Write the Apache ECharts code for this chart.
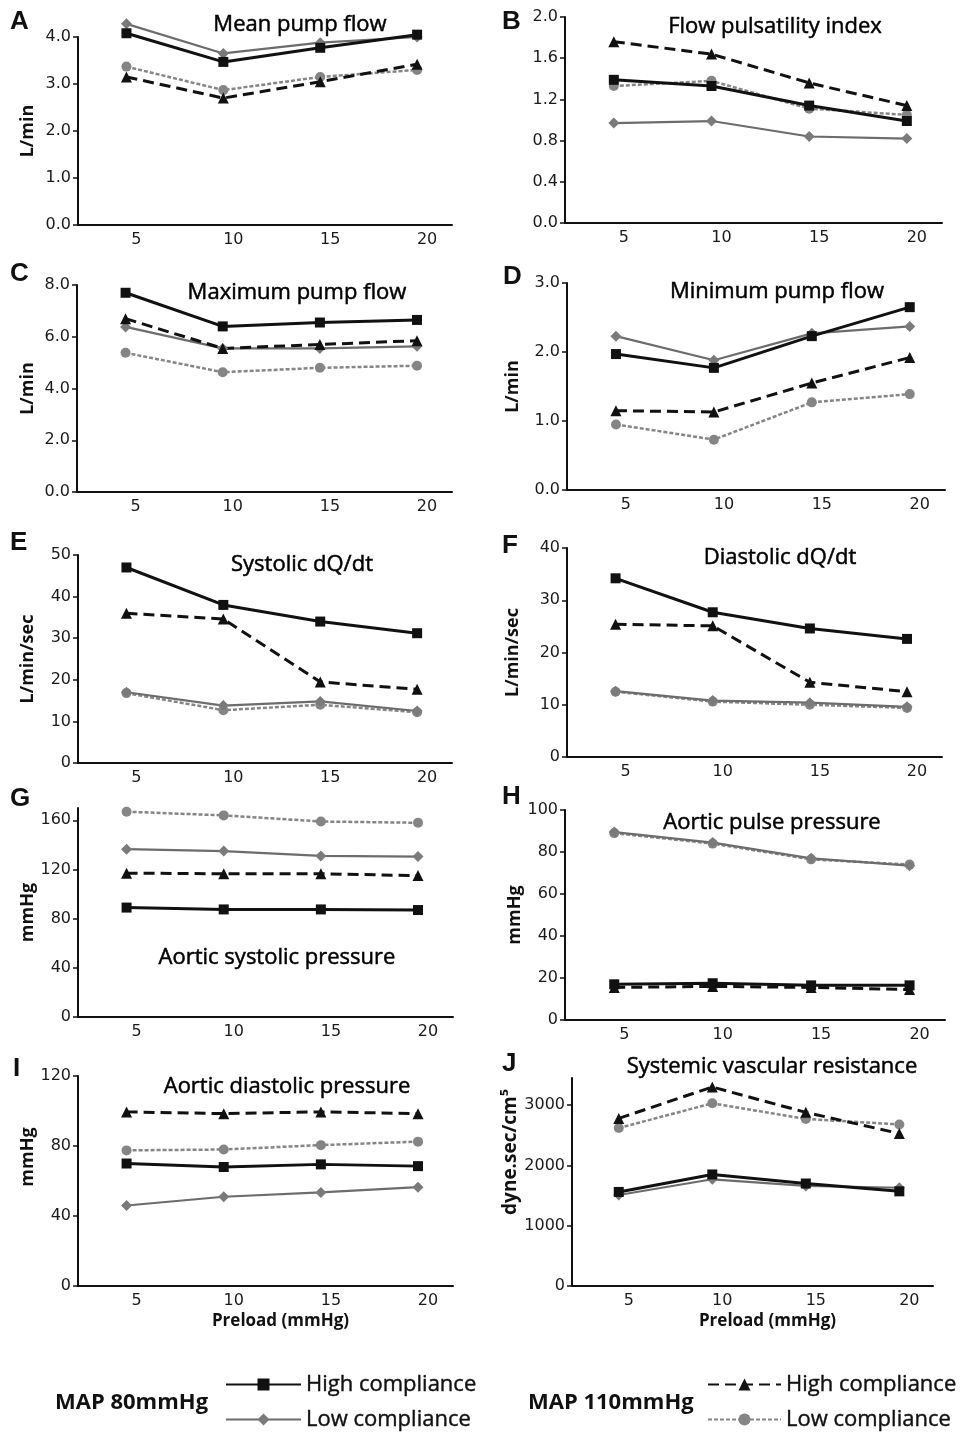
<!DOCTYPE html>
<html><head><meta charset="utf-8">
<script src="https://cdn.jsdelivr.net/npm/echarts@6/dist/echarts.min.js"></script>
<style>html,body{margin:0;padding:0;background:#fff}#c{width:971px;height:1435px}</style>
</head><body><div id="c"></div>
<script>
// ---------- DATA ----------
const preload = [5, 10, 15, 20];

// A Mean pump flow (L/min)
const meanFlowHigh80  = [4.08, 3.47, 3.77, 4.05];
const meanFlowLow80   = [4.28, 3.65, 3.88, 4.00];
const meanFlowHigh110 = [3.15, 2.70, 3.05, 3.42];
const meanFlowLow110  = [3.37, 2.87, 3.15, 3.30];
const ticksA = [0, 1, 2, 3, 4];

// B Flow pulsatility index
const pulsHigh80  = [1.39, 1.33, 1.14, 0.99];
const pulsLow80   = [0.97, 0.99, 0.84, 0.82];
const pulsHigh110 = [1.76, 1.64, 1.36, 1.14];
const pulsLow110  = [1.33, 1.38, 1.11, 1.05];
const ticksB = [0, 0.4, 0.8, 1.2, 1.6, 2.0];

// C Maximum pump flow (L/min)
const maxFlowHigh80  = [7.70, 6.40, 6.55, 6.65];
const maxFlowLow80   = [6.38, 5.55, 5.55, 5.63];
const maxFlowHigh110 = [6.70, 5.55, 5.70, 5.85];
const maxFlowLow110  = [5.38, 4.63, 4.80, 4.88];
const ticksC = [0, 2, 4, 6, 8];

// D Minimum pump flow (L/min)
const minFlowHigh80  = [1.97, 1.77, 2.23, 2.65];
const minFlowLow80   = [2.23, 1.88, 2.27, 2.37];
const minFlowHigh110 = [1.15, 1.13, 1.55, 1.92];
const minFlowLow110  = [0.95, 0.73, 1.27, 1.39];
const ticksD = [0, 1, 2, 3];

// E Systolic dQ/dt (L/min/sec)
const sysDqHigh80  = [47.0, 38.0, 34.0, 31.2];
const sysDqLow80   = [17.0, 13.8, 14.8, 12.5];
const sysDqHigh110 = [36.0, 34.6, 19.5, 17.7];
const sysDqLow110  = [16.8, 12.7, 14.0, 12.2];
const ticksE = [0, 10, 20, 30, 40, 50];

// F Diastolic dQ/dt (L/min/sec)
const diaDqHigh80  = [34.2, 27.7, 24.6, 22.6];
const diaDqLow80   = [12.6, 10.8, 10.4, 9.6];
const diaDqHigh110 = [25.4, 25.1, 14.3, 12.5];
const diaDqLow110  = [12.5, 10.6, 10.0, 9.4];
const ticksF = [0, 10, 20, 30, 40];

// G Aortic systolic pressure (mmHg)
const aoSysHigh80  = [89.0, 87.5, 87.5, 87.0];
const aoSysLow80   = [136.5, 135.0, 131.0, 130.5];
const aoSysHigh110 = [117.0, 116.5, 116.5, 115.0];
const aoSysLow110  = [167.0, 164.0, 159.0, 158.0];
const ticksG = [0, 40, 80, 120, 160];

// H Aortic pulse pressure (mmHg)
const aoPulseHigh80  = [17.0, 17.5, 16.5, 16.5];
const aoPulseLow80   = [89.5, 84.5, 77.0, 73.5];
const aoPulseHigh110 = [15.5, 16.0, 15.5, 14.5];
const aoPulseLow110  = [89.0, 84.0, 76.5, 74.0];
const ticksH = [0, 20, 40, 60, 80, 100];

// I Aortic diastolic pressure (mmHg)
const aoDiaHigh80  = [70.0, 68.0, 69.5, 68.5];
const aoDiaLow80   = [46.0, 51.0, 53.5, 56.5];
const aoDiaHigh110 = [99.5, 98.5, 99.5, 98.5];
const aoDiaLow110  = [77.5, 78.0, 80.5, 82.5];
const ticksI = [0, 40, 80, 120];

// J Systemic vascular resistance (dyne.sec/cm5)
const svrHigh80  = [1560, 1850, 1700, 1570];
const svrLow80   = [1510, 1770, 1660, 1630];
const svrHigh110 = [2780, 3300, 2880, 2530];
const svrLow110  = [2620, 3030, 2770, 2680];
const ticksJ = [0, 1000, 2000, 3000];

// ---------- LAYOUT ----------
const panels = [
  {letter:'A', lx:10, ly:22, title:'Mean pump flow', tx:300, ty:25, grid:[78,37,374,188], ymax:4, ticks:ticksA, dec:1, yname:'L/min', gap:41, d:[meanFlowHigh80, meanFlowLow80, meanFlowHigh110, meanFlowLow110]},
  {letter:'B', lx:502, ly:22, title:'Flow pulsatility index', tx:775, ty:27, grid:[565,17,377,206], ymax:2, ticks:ticksB, dec:1, yname:'', gap:41, d:[pulsHigh80, pulsLow80, pulsHigh110, pulsLow110]},
  {letter:'C', lx:10, ly:274, title:'Maximum pump flow', tx:297, ty:293, grid:[77,285,375,207], ymax:8, ticks:ticksC, dec:1, yname:'L/min', gap:40, d:[maxFlowHigh80, maxFlowLow80, maxFlowHigh110, maxFlowLow110]},
  {letter:'D', lx:503, ly:277, title:'Minimum pump flow', tx:777, ty:292, grid:[567,283,378,207], ymax:3, ticks:ticksD, dec:1, yname:'L/min', gap:45, d:[minFlowHigh80, minFlowLow80, minFlowHigh110, minFlowLow110]},
  {letter:'E', lx:10, ly:543, title:'Systolic dQ/dt', tx:302, ty:565, grid:[78,555,374,208], ymax:50, ticks:ticksE, dec:0, yname:'L/min/sec', gap:41, d:[sysDqHigh80, sysDqLow80, sysDqHigh110, sysDqLow110]},
  {letter:'F', lx:502, ly:546, title:'Diastolic dQ/dt', tx:780, ty:558, grid:[567,548,375,209], ymax:40, ticks:ticksF, dec:0, yname:'L/min/sec', gap:45, d:[diaDqHigh80, diaDqLow80, diaDqHigh110, diaDqLow110]},
  {letter:'G', lx:10, ly:799, title:'Aortic systolic pressure', tx:277, ty:958, grid:[78,808,375,209], ymax:170, ticks:ticksG, dec:0, yname:'mmHg', gap:36, d:[aoSysHigh80, aoSysLow80, aoSysHigh110, aoSysLow110]},
  {letter:'H', lx:502, ly:797, title:'Aortic pulse pressure', tx:772, ty:823, grid:[565,810,380,210], ymax:100, ticks:ticksH, dec:0, yname:'mmHg', gap:38, d:[aoPulseHigh80, aoPulseLow80, aoPulseHigh110, aoPulseLow110]},
  {letter:'I', lx:13, ly:1069, title:'Aortic diastolic pressure', tx:287, ty:1087, grid:[78,1076,375,210], ymax:120, ticks:ticksI, dec:0, yname:'mmHg', gap:36, up:24, xname:true, d:[aoDiaHigh80, aoDiaLow80, aoDiaHigh110, aoDiaLow110]},
  {letter:'J', lx:502, ly:1064, title:'Systemic vascular resistance', tx:772, ty:1067, grid:[572,1078,361,208], ymax:3450, ticks:ticksJ, dec:0, yname:'dyne.sec/cm\u2075', gap:45, up:30, ysize:19, xname:true, d:[svrHigh80, svrLow80, svrHigh110, svrLow110]}
];

const BLACK = '#111';
const GRAY_SOLID = '#6c6c6c';
const GRAY_DASH = '#858585';
const NAMES = ['MAP80 High', 'MAP80 Low', 'MAP110 High', 'MAP110 Low'];
const LABELS = {'MAP80 High':'High compliance','MAP80 Low':'Low compliance','MAP110 High':'High compliance','MAP110 Low':'Low compliance'};

const styles = {
  'MAP110 Low': {symbol:'circle', symbolSize:10, lineStyle:{color:GRAY_DASH, width:2.5, type:[4,2]}, itemStyle:{color:GRAY_DASH}},
  'MAP80 Low': {symbol:'diamond', symbolSize:11, lineStyle:{color:GRAY_SOLID, width:2.2}, itemStyle:{color:'#7a7a7a'}},
  'MAP110 High': {symbol:'triangle', symbolSize:11, lineStyle:{color:BLACK, width:3, type:[11,6]}, itemStyle:{color:BLACK}},
  'MAP80 High': {symbol:'rect', symbolSize:10, lineStyle:{color:BLACK, width:3}, itemStyle:{color:BLACK}}
};
const drawOrder = ['MAP110 Low', 'MAP80 Low', 'MAP110 High', 'MAP80 High'];

const grids = [], xAxes = [], yAxes = [], series = [], graphics = [];
panels.forEach((p, i) => {
  grids.push({left:p.grid[0], top:p.grid[1], width:p.grid[2], height:p.grid[3], containLabel:false});
  const xa = {
    type:'value', gridIndex:i, min:2.5, max:21.8,
    axisLine:{show:true, lineStyle:{color:BLACK, width:2}},
    axisTick:{show:false},
    splitLine:{show:false},
    axisLabel:{customValues:preload, formatter:v => String(v), color:'#1a1a1a', fontFamily:'DejaVu Sans', fontSize:16, margin:7, padding:[0,0,0,20]}
  };
  if (p.xname) {
    xa.name = 'Preload (mmHg)';
    xa.nameLocation = 'middle';
    xa.nameGap = 27;
    xa.nameTextStyle = {fontFamily:'Open Sans', fontWeight:'bold', fontSize:17, color:BLACK, padding:[0,0,0,30]};
  }
  xAxes.push(xa);
  yAxes.push({
    type:'value', gridIndex:i, min:0, max:p.ymax,
    name:p.yname, nameLocation:'middle', nameGap:p.gap,
    nameTextStyle:{fontFamily:'Open Sans', fontWeight:'bold', fontSize:p.ysize || 18, color:BLACK, padding:[0,0,0,(p.up||0)*2]},
    axisLine:{show:true, lineStyle:{color:BLACK, width:2}},
    axisTick:{show:true, customValues:p.ticks, length:5, lineStyle:{color:BLACK, width:1.5}},
    splitLine:{show:false},
    axisLabel:{customValues:p.ticks, formatter:v => v.toFixed(p.dec), color:'#1a1a1a', fontFamily:'DejaVu Sans', fontSize:16, margin:7}
  });
  drawOrder.forEach(n => {
    const vals = p.d[NAMES.indexOf(n)];
    const s = styles[n];
    series.push({
      name:n, type:'line', xAxisIndex:i, yAxisIndex:i,
      data: preload.map((x, k) => [x, vals[k]]),
      symbol:s.symbol, symbolSize:s.symbolSize,
      lineStyle:s.lineStyle, itemStyle:s.itemStyle,
      clip:false, silent:true, animation:false
    });
  });
  graphics.push({type:'text', x:p.lx, y:p.ly, style:{text:p.letter, font:'bold 26px "Liberation Sans"', fill:BLACK, align:'left', verticalAlign:'middle'}});
  graphics.push({type:'text', x:p.tx, y:p.ty, style:{text:p.title, font:'22px "Open Sans"', fill:'#000', stroke:'#000', lineWidth:0.5, align:'center', verticalAlign:'middle'}});
});

graphics.push({type:'text', x:55, y:1403, style:{text:'MAP 80mmHg', font:'bold 22px "Open Sans"', fill:BLACK, align:'left', verticalAlign:'middle'}});
graphics.push({type:'text', x:528, y:1403, style:{text:'MAP 110mmHg', font:'bold 22px "Open Sans"', fill:BLACK, align:'left', verticalAlign:'middle'}});

const legendCommon = {
  orient:'vertical', selectedMode:false, itemWidth:75, itemHeight:15, itemGap:10, padding:0,
  formatter: n => LABELS[n],
  textStyle:{fontFamily:'Open Sans', fontSize:22, color:BLACK, lineHeight:25, textBorderColor:BLACK, textBorderWidth:0.4}
};

const chart = echarts.init(document.getElementById('c'), null, {renderer:'canvas'});
chart.setOption({
  backgroundColor:'#fff',
  animation:false,
  grid:grids, xAxis:xAxes, yAxis:yAxes, series:series,
  legend:[
    Object.assign({}, legendCommon, {data:['MAP80 High','MAP80 Low'], left:225, top:1372}),
    Object.assign({}, legendCommon, {data:['MAP110 High','MAP110 Low'], left:707, top:1372, itemWidth:73})
  ],
  graphic:graphics
});
</script></body></html>
